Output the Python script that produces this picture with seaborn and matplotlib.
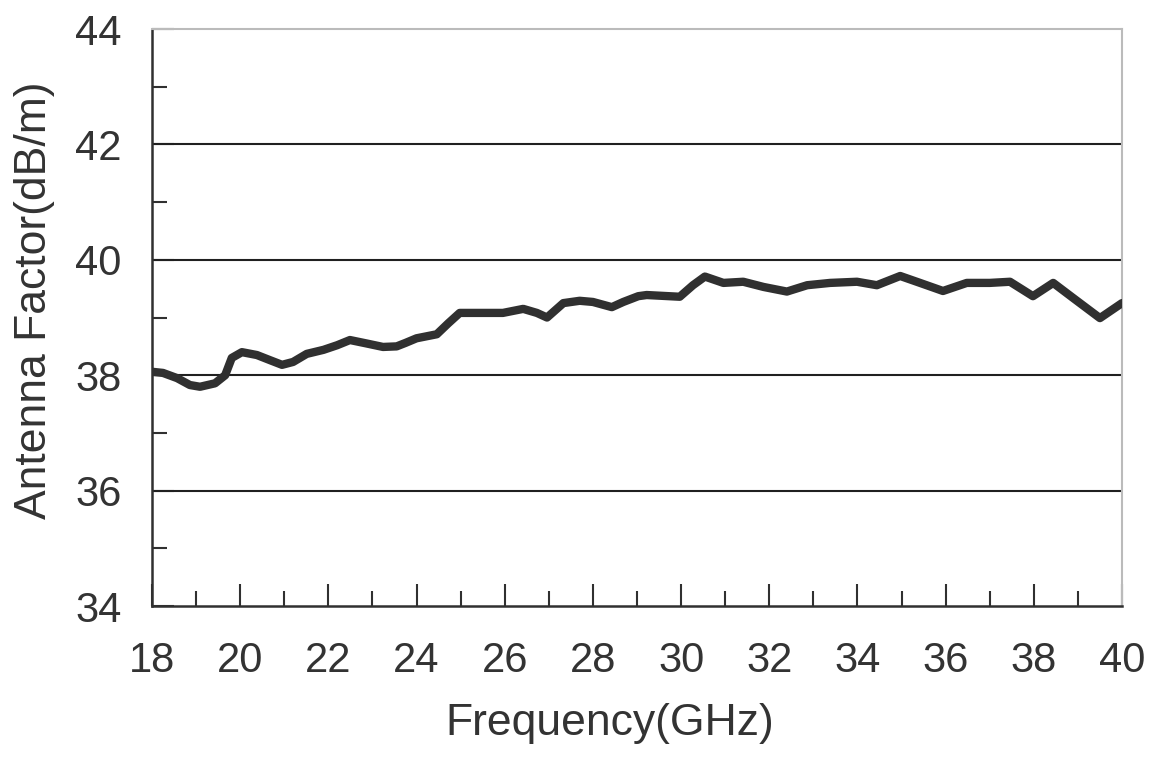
import matplotlib

matplotlib.use('Agg')
import matplotlib.pyplot as plt
import seaborn as sns
import pandas as pd
from matplotlib.ticker import MultipleLocator

# Данные
freq_ghz = [18.0, 18.25, 18.57, 18.86, 19.09, 19.43, 19.66, 19.81, 20.04, 20.38, 20.68,
            20.95, 21.2, 21.51, 21.89, 22.2, 22.49, 22.87, 23.24, 23.55, 23.75, 24.0,
            24.46, 24.72, 24.98, 25.36, 25.96, 26.42, 26.73, 26.96, 27.33, 27.7, 28.0,
            28.43, 28.69, 29.03, 29.22, 29.97, 30.27, 30.54, 30.96, 31.41, 31.87, 32.4,
            32.86, 33.38, 33.99, 34.44, 34.97, 35.42, 35.94, 36.48, 37.0, 37.46, 37.98,
            38.44, 38.89, 39.5, 40.0]
antenna_factor = [38.06, 38.04, 37.95, 37.83, 37.8, 37.86, 38.0, 38.3, 38.4, 38.35, 38.26,
                  38.18, 38.23, 38.37, 38.44, 38.52, 38.61, 38.55, 38.49, 38.5, 38.56, 38.64,
                  38.71, 38.9, 39.08, 39.08, 39.08, 39.15, 39.08, 39.0, 39.25, 39.29, 39.27,
                  39.18, 39.27, 39.37, 39.39, 39.36, 39.56, 39.71, 39.6, 39.62, 39.53, 39.45,
                  39.56, 39.6, 39.62, 39.56, 39.72, 39.6, 39.46, 39.6, 39.6, 39.62, 39.37,
                  39.6, 39.34, 38.99, 39.25]

x_ticks = list(range(18, 41, 2))
y_ticks = list(range(34, 45, 2))

sns.set_theme(style="white")
plt.rcParams['font.family'] = ['Liberation Sans', 'DejaVu Sans']

df = pd.DataFrame({'freq': freq_ghz, 'af': antenna_factor})

fig = plt.figure(figsize=(11.53, 7.58), dpi=100)
ax = fig.add_axes([0.1318, 0.2005, 0.8413, 0.7612])

sns.lineplot(data=df, x='freq', y='af', ax=ax, color='#303030', linewidth=6,
             solid_joinstyle='round', solid_capstyle='round', zorder=3)

ax.set_xlim(18, 40)
ax.set_ylim(34, 44)
ax.set_xticks(x_ticks)
ax.set_yticks(y_ticks)
ax.xaxis.set_minor_locator(MultipleLocator(1))
ax.yaxis.set_minor_locator(MultipleLocator(1))

# сетка только по основным значениям Y
for v in y_ticks[1:-1]:
    ax.axhline(v, color='#202020', linewidth=1.5, zorder=1)

ax.tick_params(axis='both', which='both', bottom=True, left=True, top=False, right=False)
ax.tick_params(axis='both', which='major', direction='in', length=16, width=1.5,
               color='#303030', labelsize=30, labelcolor='#333333')
ax.tick_params(axis='both', which='minor', direction='in', length=11, width=1.5,
               color='#303030')
ax.tick_params(axis='x', which='major', pad=25)
ax.tick_params(axis='y', which='major', pad=22)

for side in ['left', 'bottom']:
    ax.spines[side].set_color('#303030')
    ax.spines[side].set_linewidth(1.8)
for side in ['top', 'right']:
    ax.spines[side].set_color('#bbbbbb')
    ax.spines[side].set_linewidth(1.5)

ax.set_xlabel('Frequency(GHz)', fontsize=32, color='#333333')
ax.set_ylabel('Antenna Factor(dB/m)', fontsize=32, color='#333333')
ax.xaxis.set_label_coords(0.472, -0.168)
ax.yaxis.set_label_coords(-0.1, 0.53)

plt.savefig('out.png', dpi=100)
plt.close()
